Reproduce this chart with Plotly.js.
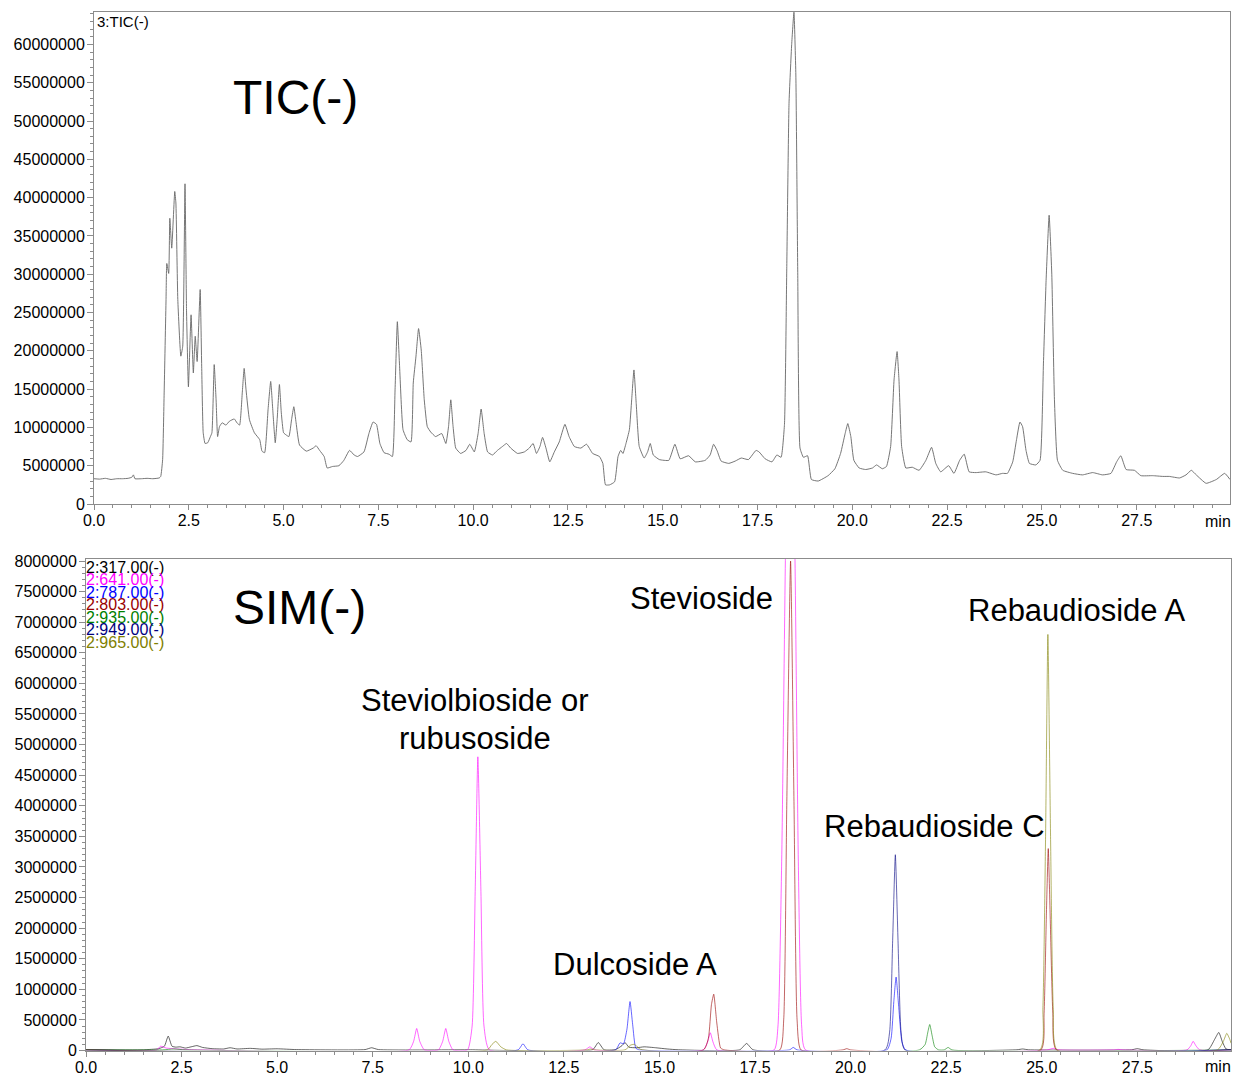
<!DOCTYPE html>
<html><head><meta charset="utf-8">
<script src="https://cdn.plot.ly/plotly-3.0.1.min.js"></script>
<style>html,body{margin:0;padding:0;background:#fff}#chart{width:1234px;height:1076px}</style>
</head><body><div id="chart"></div>
<script>
// ---- TIC(-) chromatogram (time in min, intensity in millions of counts) ----
const ticTime = [0.00,0.15,0.30,0.45,0.60,0.75,0.90,1.00,1.04,1.08,1.25,1.40,1.55,1.72,1.76,1.81,1.85,1.90,1.92,1.97,2.00,2.05,2.13,2.16,2.21,2.29,2.34,2.40,2.44,2.49,2.56,2.62,2.67,2.72,2.80,2.84,2.88,2.93,3.00,3.07,3.11,3.17,3.22,3.26,3.31,3.38,3.48,3.57,3.70,3.77,3.84,3.91,3.96,4.01,4.10,4.23,4.37,4.43,4.50,4.59,4.66,4.72,4.78,4.83,4.89,4.94,5.00,5.07,5.14,5.21,5.27,5.33,5.42,5.60,5.78,5.86,5.95,6.07,6.15,6.29,6.46,6.59,6.74,6.86,6.95,7.12,7.25,7.36,7.45,7.54,7.65,7.78,7.87,7.94,8.00,8.06,8.15,8.26,8.36,8.42,8.49,8.56,8.63,8.71,8.79,8.88,9.01,9.17,9.28,9.35,9.41,9.47,9.54,9.67,9.81,9.91,10.03,10.13,10.21,10.29,10.38,10.51,10.64,10.77,10.88,10.99,11.17,11.35,11.48,11.58,11.67,11.76,11.83,11.92,12.02,12.14,12.27,12.42,12.53,12.67,12.84,12.99,13.15,13.33,13.42,13.49,13.60,13.73,13.82,13.89,13.95,14.03,14.12,14.18,14.24,14.30,14.38,14.51,14.60,14.67,14.75,14.91,15.16,15.32,15.46,15.68,15.86,16.12,16.25,16.34,16.43,16.54,16.74,16.91,17.07,17.26,17.46,17.54,17.70,17.88,18.01,18.12,18.21,18.27,18.33,18.40,18.46,18.51,18.56,18.62,18.71,18.82,18.92,19.10,19.36,19.54,19.69,19.81,19.88,19.96,20.04,20.18,20.35,20.53,20.64,20.79,20.90,21.01,21.10,21.18,21.23,21.30,21.41,21.58,21.76,21.94,22.09,22.20,22.33,22.54,22.68,22.83,22.95,23.08,23.26,23.52,23.79,23.96,24.09,24.23,24.33,24.42,24.49,24.58,24.67,24.84,24.95,25.04,25.11,25.19,25.26,25.33,25.41,25.55,25.81,26.07,26.34,26.60,26.82,26.97,27.08,27.22,27.44,27.61,27.92,28.19,28.36,28.63,28.80,28.94,29.07,29.33,29.60,29.82,29.96];
const ticMillions = [3.3,3.25,3.35,3.2,3.3,3.3,3.35,3.5,3.8,3.3,3.3,3.35,3.3,3.4,3.6,5.8,14.5,26.7,31.4,30.1,37.3,33.4,40.8,39.3,26.7,19.3,20.6,41.8,25.3,15.3,24.7,17.1,21.9,18.6,28.0,18.0,9.3,7.9,8.0,8.8,9.3,18.2,13.6,8.8,10.1,10.6,10.3,10.8,11.1,10.6,10.3,14.5,17.7,14.9,11.0,9.3,8.4,6.9,6.7,12.3,16.0,11.9,8.0,11.0,15.6,11.9,9.3,9.0,8.8,11.0,12.7,10.6,7.7,6.9,7.3,7.6,7.0,6.2,4.7,4.9,5.0,5.7,7.0,6.4,6.2,6.8,9.2,10.7,10.4,7.9,6.7,6.5,6.2,14.9,23.8,17.9,9.7,8.4,8.1,15.8,19.2,22.9,20.1,13.6,10.1,9.4,8.8,9.2,7.9,10.1,13.6,10.1,7.3,6.6,7.0,7.8,6.8,9.2,12.4,9.2,6.8,6.4,7.0,7.5,7.9,7.3,6.6,6.8,7.3,7.9,6.6,7.5,8.7,7.3,5.5,6.8,8.1,10.4,8.8,7.5,7.3,7.8,6.6,6.2,5.3,2.5,2.5,2.9,6.2,7.0,6.6,7.9,9.7,13.6,17.5,13.1,7.5,6.0,6.8,7.9,6.4,5.8,5.7,7.8,5.9,6.3,5.5,5.7,6.4,7.8,7.0,5.6,5.3,5.6,6.0,5.8,7.0,6.8,5.9,5.5,6.4,6.1,10.4,30.7,52.3,60.0,64.2,56.0,30.2,7.3,6.1,6.3,3.2,3.0,3.7,4.6,6.6,9.2,10.5,8.8,5.7,4.7,4.5,4.7,5.1,4.6,4.9,7.5,16.2,19.9,16.2,7.5,4.7,4.8,4.4,5.7,7.4,5.3,4.2,5.0,4.0,5.7,6.5,4.2,4.1,4.2,3.8,4.0,4.0,5.5,8.4,10.7,10.1,7.0,5.3,5.1,5.7,18.4,29.2,37.7,30.0,13.6,5.7,4.4,4.0,3.8,4.1,3.8,4.0,5.5,6.3,4.5,4.4,3.7,3.7,3.6,3.6,3.4,3.8,4.4,3.8,2.7,3.2,4.0,3.2];

// ---- SIM(-) channels (time in min, intensity in counts) ----
const sim317Time = [0,1.5,1.9,2.05,2.15,2.25,2.35,2.46,2.6,2.75,2.9,3.05,3.3,3.6,3.77,3.95,4.3,4.6,5.0,5.5,7.3,7.47,7.65,10.0,13.25,13.4,13.55,13.85,14.02,14.1,14.2,14.4,14.6,14.9,15.2,15.5,17.1,17.28,17.45,24.35,24.5,24.65,27.35,27.5,27.65,29.35,29.52,29.63,29.72,29.82,29.95];
const sim317Value = [12e3,12e3,30e3,70e3,235e3,70e3,55e3,60e3,40e3,60e3,80e3,50e3,30e3,25e3,45e3,25e3,35e3,22e3,28e3,15e3,15e3,45e3,15e3,12e3,12e3,130e3,12e3,15e3,80e3,130e3,55e3,45e3,60e3,45e3,25e3,12e3,12e3,115e3,12e3,12e3,25e3,12e3,12e3,30e3,12e3,12e3,180e3,295e3,150e3,25e3,12e3];

const sim641Time = [0,1.85,1.95,2.1,2.4,2.7,3.0,8.45,8.57,8.65,8.73,8.85,9.22,9.33,9.41,9.49,9.6,9.98,10.1,10.18,10.25,10.33,10.41,10.55,13.05,13.18,13.3,16.15,16.26,16.33,16.4,16.5,18.0,18.1,18.2,18.3,18.42,18.54,18.63,18.72,18.82,25.15,25.3,25.45,26.9,27.0,27.1,28.8,28.9,28.96,29.03,29.13,29.95];
const sim641Value = [10e3,10e3,70e3,40e3,25e3,15e3,10e3,10e3,150e3,360e3,150e3,10e3,10e3,150e3,360e3,150e3,10e3,10e3,400e3,2.6e6,4.8e6,2.6e6,400e3,10e3,10e3,60e3,10e3,10e3,140e3,290e3,140e3,10e3,10e3,400e3,3.2e6,8.3e6,12.4e6,8.3e6,3.2e6,400e3,10e3,10e3,35e3,10e3,10e3,18e3,10e3,10e3,80e3,150e3,80e3,10e3,10e3];

const sim787Time = [0,11.3,11.43,11.56,13.85,13.97,14.06,14.15,14.23,14.3,14.38,14.47,18.4,18.5,18.6,20.95,21.06,21.13,21.19,21.26,21.34,21.44,29.95];
const sim787Value = [10e3,10e3,110e3,10e3,10e3,125e3,110e3,350e3,800e3,420e3,40e3,10e3,10e3,50e3,10e3,10e3,200e3,800e3,1.2e6,700e3,150e3,10e3,10e3];

const sim803Time = [0,16.15,16.28,16.36,16.42,16.5,16.6,16.7,18.15,18.25,18.33,18.43,18.52,18.6,18.7,19.8,19.9,20.0,24.98,25.06,25.12,25.17,25.22,25.29,25.38,29.95];
const sim803Value = [10e3,10e3,200e3,750e3,920e3,450e3,40e3,10e3,10e3,500e3,4.0e6,8.0e6,4.0e6,500e3,10e3,10e3,30e3,10e3,10e3,600e3,2.2e6,3.3e6,2.2e6,600e3,10e3,10e3];

const sim935Time = [0,2.0,2.3,2.6,21.8,21.95,22.02,22.07,22.13,22.2,22.3,22.45,22.55,22.65,29.95];
const sim935Value = [10e3,10e3,25e3,10e3,10e3,100e3,300e3,425e3,250e3,60e3,10e3,10e3,50e3,10e3,10e3];

const sim949Time = [0,20.9,21.02,21.1,21.17,21.24,21.32,21.42,29.95];
const sim949Value = [10e3,10e3,300e3,1.8e6,3.2e6,1.8e6,300e3,10e3,10e3];

const sim965Time = [0,10.5,10.62,10.72,10.85,11.0,13.1,13.2,13.3,14.1,14.25,14.35,14.5,24.95,25.03,25.1,25.16,25.23,25.3,25.4,29.6,29.75,29.84,29.92,29.95];
const sim965Value = [10e3,10e3,100e3,150e3,60e3,10e3,10e3,25e3,10e3,10e3,90e3,100e3,20e3,10e3,700e3,3.5e6,6.8e6,3.5e6,700e3,10e3,10e3,150e3,280e3,180e3,120e3];

const simChannels = ['2:317.00(-)','2:641.00(-)','2:787.00(-)','2:803.00(-)','2:935.00(-)','2:949.00(-)','2:965.00(-)'];
const simColors = ['#000000','#ff00ff','#0000ff','#990000','#008000','#000080','#808000'];

// ---- tick labels ----
const xTickVals = [0,2.5,5,7.5,10,12.5,15,17.5,20,22.5,25,27.5];
const xTickText = ['0.0','2.5','5.0','7.5','10.0','12.5','15.0','17.5','20.0','22.5','25.0','27.5'];
const ticTickVals = [0,5e6,10e6,15e6,20e6,25e6,30e6,35e6,40e6,45e6,50e6,55e6,60e6];
const ticTickText = ['0','5000000','10000000','15000000','20000000','25000000','30000000','35000000','40000000','45000000','50000000','55000000','60000000'];
const simTickVals = [0,5e5,1e6,1.5e6,2e6,2.5e6,3e6,3.5e6,4e6,4.5e6,5e6,5.5e6,6e6,6.5e6,7e6,7.5e6,8e6];
const simTickText = ['0','500000','1000000','1500000','2000000','2500000','3000000','3500000','4000000','4500000','5000000','5500000','6000000','6500000','7000000','7500000','8000000'];

const W = 1234, H = 1076;
const fx = p => p / W;
const fy = p => 1 - p / H;

const traces = [{
  x: ticTime, y: ticMillions.map(v => v * 1e6), type: 'scatter', mode: 'lines',
  xaxis: 'x', yaxis: 'y', line: {color: '#666666', width: 0.9, shape: 'spline', smoothing: 0.4}, hoverinfo: 'skip'
}];
const simT = [sim317Time, sim641Time, sim787Time, sim803Time, sim935Time, sim949Time, sim965Time];
const simV = [sim317Value, sim641Value, sim787Value, sim803Value, sim935Value, sim949Value, sim965Value];
for (let i = 0; i < simT.length; i++) {
  traces.push({x: simT[i], y: simV[i], type: 'scatter', mode: 'lines', xaxis: 'x2', yaxis: 'y2',
    name: simChannels[i], line: {color: simColors[i], width: 1, shape: 'spline', smoothing: 0.5}, opacity: 0.6, hoverinfo: 'skip'});
}

const axisBase = {
  showgrid: false, zeroline: false, showline: true, mirror: true, linecolor: '#8c8c8c', linewidth: 1,
  ticks: 'outside', ticklen: 6, tickwidth: 1, tickcolor: '#8c8c8c',
  tickfont: {size: 16, color: '#000'}, fixedrange: true
};
function xAxis(domain, range, anchor) {
  return Object.assign({}, axisBase, {domain, range, anchor, tickmode: 'array', tickvals: xTickVals, ticktext: xTickText,
    ticklen: 5, ticklabelstandoff: -3, minor: {tick0: 0, dtick: 0.5, ticks: 'outside', ticklen: 3, tickcolor: '#8c8c8c'}});
}
function yAxis(domain, range, anchor, vals, text, minorStep) {
  return Object.assign({}, axisBase, {domain, range, anchor, tickmode: 'array', tickvals: vals, ticktext: text,
    ticklabelstandoff: -1, minor: {tick0: 0, dtick: minorStep, ticks: 'outside', ticklen: 3, tickcolor: '#8c8c8c'}});
}

const annotations = [];
function ann(text, x, y, size, color, xanchor) {
  annotations.push({text, x: fx(x), y: fy(y), xref: 'paper', yref: 'paper', showarrow: false,
    xanchor: xanchor || 'center', yanchor: 'middle', font: {size, color: color || '#000'}});
}
ann('3:TIC(-)', 95, 21, 15, '#000', 'left');
ann('TIC(-)', 231, 97, 48, '#000', 'left');
ann('SIM(-)', 231, 607, 48, '#000', 'left');
ann('Stevioside', 701, 598, 31);
ann('Steviolbioside or', 475, 700, 31);
ann('rubusoside', 475, 738, 31);
ann('Dulcoside A', 635, 964, 31);
ann('Rebaudioside C', 934, 826, 31);
ann('Rebaudioside A', 1076, 610, 31);
ann('min', 1218, 521, 16);
ann('min', 1218, 1066, 16);
for (let i = 0; i < simChannels.length; i++) {
  ann(simChannels[i], 84, 567 + i * 12.5, 16, simColors[i], 'left');
}

const layout = {
  width: W, height: H, margin: {l: 0, r: 0, t: 0, b: 0},
  paper_bgcolor: '#fff', plot_bgcolor: '#fff', showlegend: false,
  font: {family: 'Liberation Sans, Arial, sans-serif', size: 16, color: '#000'},
  xaxis: xAxis([fx(94), fx(1230)], [0, 29.96], 'y'),
  yaxis: yAxis([fy(504), fy(12)], [0, 64.23e6], 'x', ticTickVals, ticTickText, 1e6),
  xaxis2: xAxis([fx(86), fx(1231)], [0, 29.95], 'y2'),
  yaxis2: yAxis([fy(1050.5), fy(559)], [0, 8.033e6], 'x2', simTickVals, simTickText, 1e5),
  annotations
};

Plotly.newPlot('chart', traces, layout, {staticPlot: true, displayModeBar: false});
</script>
</body></html>
